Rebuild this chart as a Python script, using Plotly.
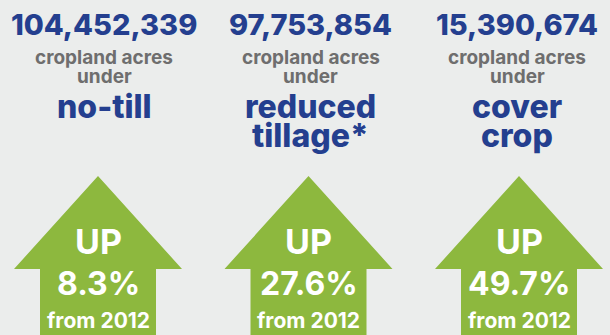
import plotly.graph_objects as go

# Conservation practice figures
practices = [["no-till"], ["reduced", "tillage*"], ["cover", "crop"]]
acres = [104452339, 97753854, 15390674]
pct_up = [8.3, 27.6, 49.7]
base_year = ["2012", "2012", "2012"]

BG = "#EBEDEC"
GREEN = "#8DB83E"
BLUE = "#243F8F"
GRAY = "#6E6E6E"
FONT = "Inter"

W, H = 610, 335
col_px = 210.5          # pixel spacing between columns
first_px = 98           # pixel centre of first column
x0 = -first_px / col_px
x1 = (W - first_px) / col_px

fig = go.Figure()

# Arrow geometry (in pixel units, converted to column units for x)
shaft_hw = 58 / col_px
wing_hw = 84 / col_px
tip_y, wing_y, base_y = 176, 269, 345

text_dx = [6 / col_px, 2 / col_px, -2 / col_px]


def label(x, y, text, size, color, weight):
    fig.add_annotation(x=x, y=y, text=text, showarrow=False,
                       font=dict(family=FONT, size=size, color=color, weight=weight))


for i, (name, a, p, yr) in enumerate(zip(practices, acres, pct_up, base_year)):
    cx = i
    xs = [cx - shaft_hw, cx - shaft_hw, cx - wing_hw, cx, cx + wing_hw,
          cx + shaft_hw, cx + shaft_hw, cx - shaft_hw]
    ys = [base_y, wing_y, wing_y, tip_y, wing_y, wing_y, base_y, base_y]
    fig.add_trace(go.Scatter(x=xs, y=ys, fill="toself", fillcolor=GREEN,
                             mode="lines", line=dict(width=0),
                             hoverinfo="skip", showlegend=False))
    tx = cx + text_dx[i]
    label(tx, 24, f"{a:,}", 29, BLUE, 800)
    label(tx, 57, "cropland acres", 19, GRAY, 700)
    label(tx, 76, "under", 19, GRAY, 700)
    for j, line in enumerate(name):
        label(tx, 106 + 29 * j, line, 32, BLUE, 800)
    label(cx, 241, "UP", 34, "white", 700)
    label(cx, 283, f"{p}%", 32, "white", 700)
    label(cx, 320, f"from {yr}", 21, "white", 700)

fig.update_layout(
    width=W, height=H, margin=dict(l=0, r=0, t=0, b=0),
    paper_bgcolor=BG, plot_bgcolor=BG,
    xaxis=dict(range=[x0, x1], visible=False, fixedrange=True),
    yaxis=dict(range=[H, 0], visible=False, fixedrange=True),
)

fig.write_html("out.html")
